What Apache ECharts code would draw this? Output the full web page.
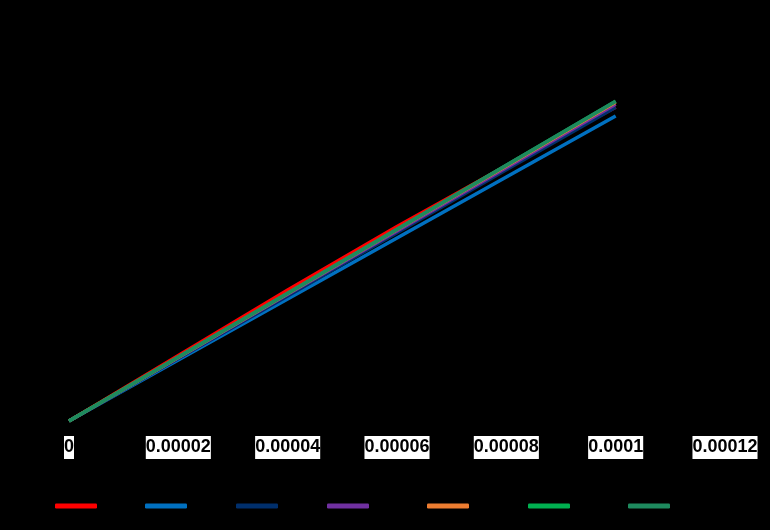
<!DOCTYPE html>
<html>
<head>
<meta charset="utf-8">
<script src="https://cdn.jsdelivr.net/npm/echarts@6/dist/echarts.min.js"></script>
<style>
html,body{margin:0;padding:0;background:#000;}
#c{width:770px;height:530px;}
</style>
</head>
<body>
<div id="c"></div>
<script>
// Data
const xValues = [0, 0.00002, 0.00004, 0.00006, 0.00008, 0.0001];
const seriesNames = ['S1', 'S2', 'S3', 'S4', 'S5', 'S6', 'S7'];
const seriesColors = ['#FF0000', '#0070C0', '#002F6C', '#7030A0', '#ED7D31', '#00B050', '#1E8A5E'];
const s1 = [0, 67, 134, 199, 261, 321];
const s2 = [0, 62.4, 124.8, 187.2, 249.6, 312];
const s3 = [0, 64, 128, 192.5, 257, 321];
const s4 = [0, 64.8, 129.6, 194.4, 259.2, 324];
const s5 = [0, 65.2, 130.5, 195.8, 261, 326];
const s6 = [0, 65.4, 130.8, 196.2, 261.6, 327];
const s7 = [0, 65.4, 130.8, 196.2, 261.6, 327];
const allSeries = [s1, s2, s3, s4, s5, s6, s7];
const xTickStep = 0.00002;
const xMax = 0.00012;

const legendLefts = [55, 145, 236, 327, 427, 528, 628];

const chart = echarts.init(document.getElementById('c'), null, {renderer: 'canvas'});
const option = {
  backgroundColor: '#000000',
  animation: false,
  grid: {left: 69, right: 45, top: 30, bottom: 109, containLabel: false},
  xAxis: {
    type: 'value', min: 0, max: xMax, interval: xTickStep,
    axisLine: {show: true, lineStyle: {color: '#000'}},
    axisTick: {show: false},
    splitLine: {show: false},
    axisLabel: {
      margin: 15,
      color: '#000',
      backgroundColor: '#fff',
      fontFamily: '"Liberation Sans Narrow", "Arial Narrow", "Liberation Sans", Arial, sans-serif',
      fontWeight: 'bold',
      fontSize: 18,
      lineHeight: 23,
      padding: [0, 0],
      formatter: function (v) { return String(+v.toPrecision(6)); }
    }
  },
  yAxis: {
    type: 'value', min: 0, max: 400, interval: 50,
    axisLine: {show: false}, axisTick: {show: false}, splitLine: {show: false},
    axisLabel: {color: '#000'}
  },
  legend: seriesNames.map((n, i) => ({
    data: [n],
    left: legendLefts[i],
    top: 500,
    icon: 'roundRect',
    itemWidth: 42,
    itemHeight: 5,
    textStyle: {color: '#000', fontSize: 12},
    padding: 0
  })),
  series: seriesNames.map((n, i) => ({
    name: n,
    type: 'line',
    data: xValues.map((x, j) => [x, allSeries[i][j]]),
    showSymbol: false,
    symbol: 'none',
    color: seriesColors[i],
    lineStyle: {width: 3.5, color: seriesColors[i]}
  }))
};
chart.setOption(option);
</script>
</body>
</html>
